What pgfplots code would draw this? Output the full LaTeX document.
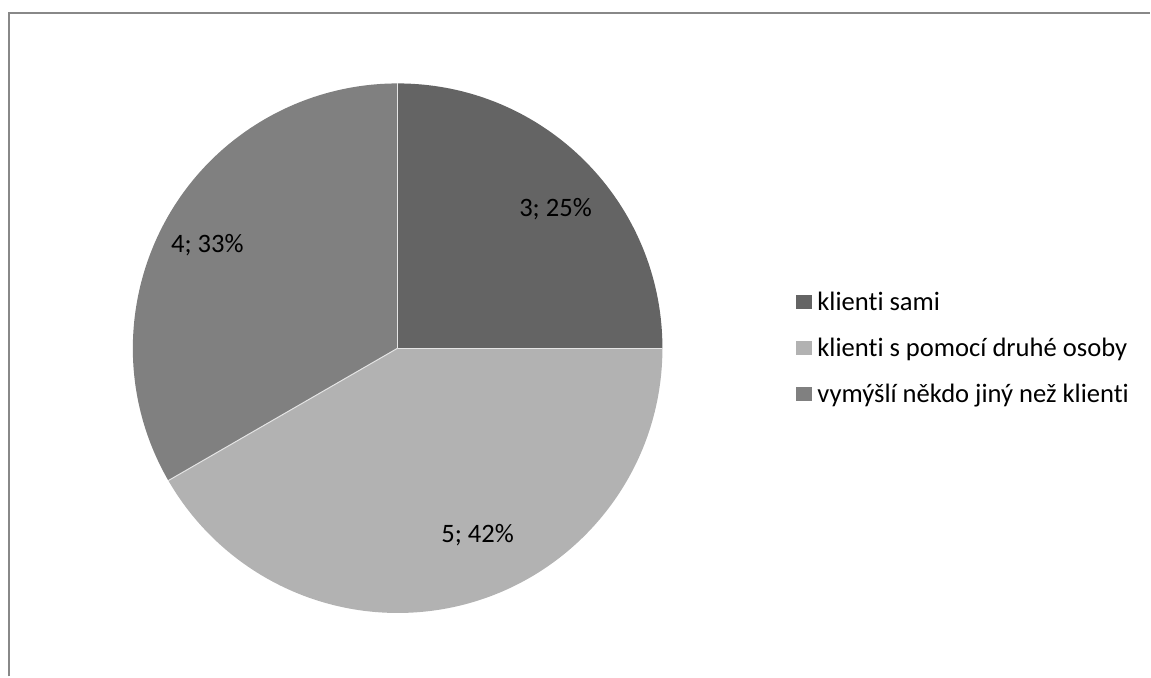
\documentclass[border=0pt]{standalone}
\usepackage{pgfplots}
\pgfplotsset{compat=1.18}
\usepackage{pgfplotstable}
\usepackage{fontspec}
\setmainfont[Ligatures={NoCommon}]{Carlito}
\definecolor{sA}{HTML}{646464}
\definecolor{sB}{HTML}{B2B2B2}
\definecolor{sC}{HTML}{808080}
\definecolor{frm}{HTML}{888888}

% value, label position (px from left, px from bottom)
\pgfplotstableread{
value lx    ly
3     556   467.5
5     478   141.5
4     207.5 431.5
}\piedata

\begin{document}
\begin{tikzpicture}
\pgfplotstablegetelem{0}{value}\of\piedata \let\va\pgfplotsretval
\pgfplotstablegetelem{1}{value}\of\piedata \let\vb\pgfplotsretval
\pgfplotstablegetelem{2}{value}\of\piedata \let\vc\pgfplotsretval
\pgfplotstablegetelem{0}{lx}\of\piedata \let\lxa\pgfplotsretval
\pgfplotstablegetelem{0}{ly}\of\piedata \let\lya\pgfplotsretval
\pgfplotstablegetelem{1}{lx}\of\piedata \let\lxb\pgfplotsretval
\pgfplotstablegetelem{1}{ly}\of\piedata \let\lyb\pgfplotsretval
\pgfplotstablegetelem{2}{lx}\of\piedata \let\lxc\pgfplotsretval
\pgfplotstablegetelem{2}{ly}\of\piedata \let\lyc\pgfplotsretval
\pgfmathsetmacro\tot{\va+\vb+\vc}
\pgfmathsetmacro\aA{90}
\pgfmathsetmacro\aB{90-360*\va/\tot}
\pgfmathsetmacro\aC{\aB-360*\vb/\tot}
\pgfmathsetmacro\aD{\aC-360*\vc/\tot}
\pgfmathsetmacro\pa{round(100*\va/\tot)}
\pgfmathsetmacro\pb{round(100*\vb/\tot)}
\pgfmathsetmacro\pc{round(100*\vc/\tot)}
\pgfkeys{/pgf/number format/.cd, fixed, precision=0, assume math mode=true}
\begin{axis}[
  x=1pt, y=1pt, disabledatascaling,
  xmin=0, xmax=1151, ymin=0, ymax=677,
  hide axis, clip=false,
  legend cell align=left,
  legend style={at={(axis cs:796,329)}, anchor=west, draw=none, fill=none,
    inner sep=0pt, row sep=21pt,
    font=\fontsize{26.6}{31}\selectfont,
    nodes={inner sep=2.5pt},
    /tikz/every even column/.append style={column sep=0pt}},
  legend image code/.code={\fill[#1] (0pt,-6.5pt) rectangle (15pt,6.5pt);},
]
\path (axis cs:0,0) rectangle (axis cs:1151,677);
\addlegendimage{sA}\addlegendentry{\hspace{4pt}klienti sami}
\addlegendimage{sB}\addlegendentry{\hspace{4pt}klienti s pomocí druhé osoby}
\addlegendimage{sC}\addlegendentry{\hspace{4pt}vymýšlí někdo jiný než klienti}

\fill[sA] (axis cs:398,328.5) -- ([shift={(\aA:265pt)}]axis cs:398,328.5) arc[start angle=\aA, end angle=\aB, radius=265pt] -- cycle;
\fill[sB] (axis cs:398,328.5) -- ([shift={(\aB:265pt)}]axis cs:398,328.5) arc[start angle=\aB, end angle=\aC, radius=265pt] -- cycle;
\fill[sC] (axis cs:398,328.5) -- ([shift={(\aC:265pt)}]axis cs:398,328.5) arc[start angle=\aC, end angle=\aD, radius=265pt] -- cycle;
\draw[white!80!gray, line width=1pt] (axis cs:398,328.5) -- ([shift={(\aA:265pt)}]axis cs:398,328.5);
\draw[white!80!gray, line width=1pt] (axis cs:398,328.5) -- ([shift={(\aB:265pt)}]axis cs:398,328.5);
\draw[white!80!gray, line width=1pt] (axis cs:398,328.5) -- ([shift={(\aC:265pt)}]axis cs:398,328.5);

\node[font=\fontsize{26.6}{31}\selectfont] at (axis cs:\lxa,\lya) {\pgfmathprintnumber{\va}; \pgfmathprintnumber{\pa}\%};
\node[font=\fontsize{26.6}{31}\selectfont] at (axis cs:\lxb,\lyb) {\pgfmathprintnumber{\vb}; \pgfmathprintnumber{\pb}\%};
\node[font=\fontsize{26.6}{31}\selectfont] at (axis cs:\lxc,\lyc) {\pgfmathprintnumber{\vc}; \pgfmathprintnumber{\pc}\%};

\draw[frm, line width=2pt] (axis cs:9,0) -- (axis cs:9,664) -- (axis cs:1151,664);
\end{axis}
\end{tikzpicture}
\end{document}
